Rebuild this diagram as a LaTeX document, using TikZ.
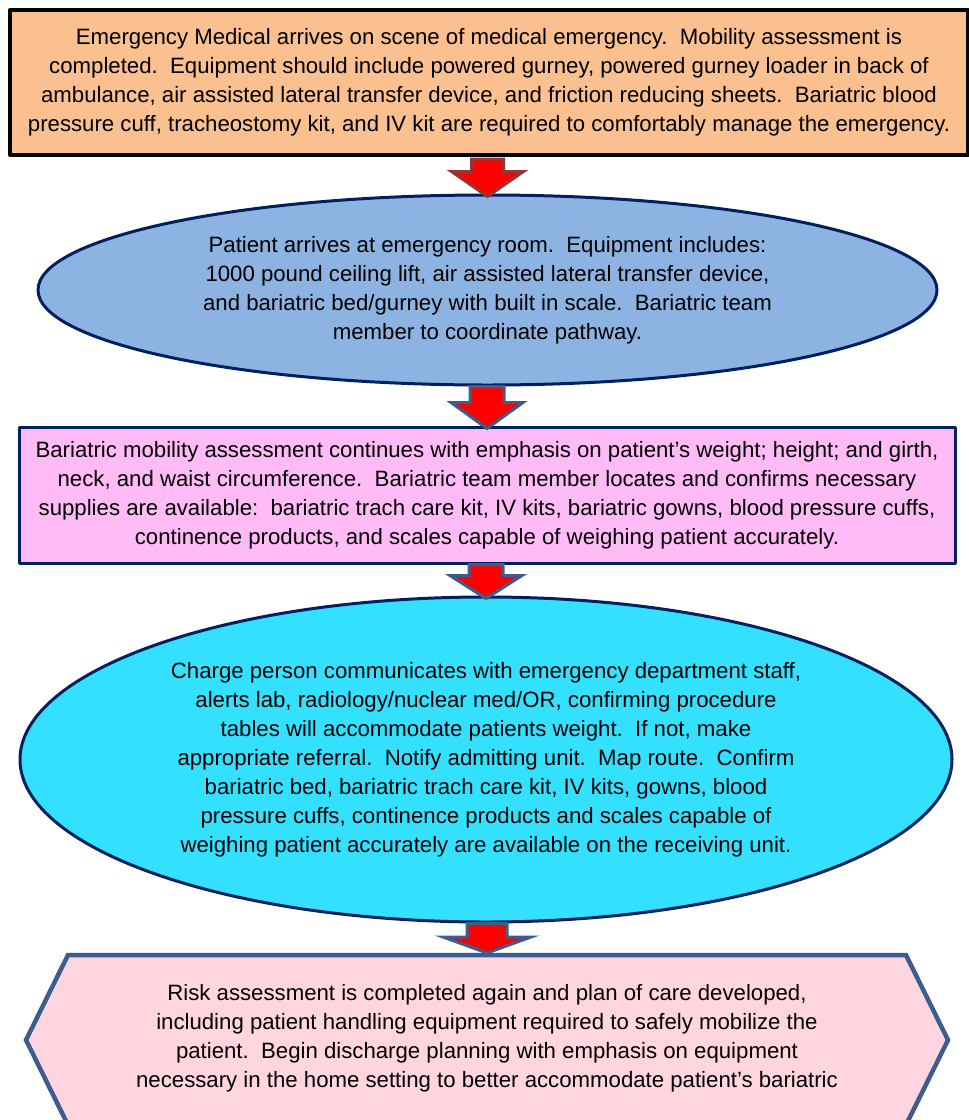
\documentclass[tikz,border=0pt]{standalone}
\usepackage{fontspec}
\setmainfont{Liberation Sans}
\usetikzlibrary{shapes.geometric,calc}

\definecolor{boxorange}{RGB}{250,192,144}
\definecolor{ovalblue}{RGB}{141,179,226}
\definecolor{boxpink}{RGB}{255,187,246}
\definecolor{ovalcyan}{RGB}{51,225,255}
\definecolor{hexpink}{RGB}{255,214,224}
\definecolor{navyline}{RGB}{0,32,96}
\definecolor{steelline}{RGB}{59,94,143}
\definecolor{darkred}{RGB}{149,55,53}

\tikzset{
  steptext/.style={align=center,inner sep=0pt,font=\fontsize{22.2}{29}\selectfont},
  navyshape/.style={draw=navyline,line width=3pt},
  blockarrow/.style={fill=red,line width=3pt,line join=miter},
}

% block arrow: from, to, outline colour, shaft half width, head half width, head length
\newcommand{\downblock}[6]{%
  \path let \p1=(#1), \p2=(#2) in [blockarrow,draw=#3]
    (\x2-#4pt,\y1) -- (\x2+#4pt,\y1) -- (\x2+#4pt,\y2+#6pt) -- (\x2+#5pt,\y2+#6pt)
    -- (\x2,\y2) -- (\x2-#5pt,\y2+#6pt) -- (\x2-#4pt,\y2+#6pt) -- cycle;}

\begin{document}
\begin{tikzpicture}[x=1pt,y=-1pt,line join=round]
\useasboundingbox (0,0) rectangle (969,1120);
\clip (0,0) rectangle (969,1120);

\node[rectangle,draw=black,line width=4pt,fill=boxorange,minimum width=958pt,minimum height=145pt,steptext] (ems) at (489,82.5)
  {Emergency Medical arrives on scene of medical emergency.\ \ Mobility assessment is\\
   completed.\ \ Equipment should include powered gurney, powered gurney loader in back of\\
   ambulance, air assisted lateral transfer device, and friction reducing sheets.\ \ Bariatric blood\\
   pressure cuff, tracheostomy kit, and IV kit are required to comfortably manage the emergency.};

\node[ellipse,navyshape,fill=ovalblue,minimum width=899pt,minimum height=190pt,steptext] (er) at (487.5,290)
  {Patient arrives at emergency room.\ \ Equipment includes:\\
   1000 pound ceiling lift, air assisted lateral transfer device,\\
   and bariatric bed/gurney with built in scale.\ \ Bariatric team\\
   member to coordinate pathway.};

\node[rectangle,navyshape,fill=boxpink,minimum width=936pt,minimum height=136pt,steptext] (assess) at (487,495)
  {Bariatric mobility assessment continues with emphasis on patient's weight; height; and girth,\\
   neck, and waist circumference.\ \ Bariatric team member locates and confirms necessary\\
   supplies are available:\ \ bariatric trach care kit, IV kits, bariatric gowns, blood pressure cuffs,\\
   continence products, and scales capable of weighing patient accurately.};

\node[ellipse,navyshape,fill=ovalcyan,minimum width=932pt,minimum height=325pt,steptext] (charge) at (486,759.5)
  {Charge person communicates with emergency department staff,\\
   alerts lab, radiology/nuclear med/OR, confirming procedure\\
   tables will accommodate patients weight.\ \ If not, make\\
   appropriate referral.\ \ Notify admitting unit.\ \ Map route.\ \ Confirm\\
   bariatric bed, bariatric trach care kit, IV kits, gowns, blood\\
   pressure cuffs, continence products and scales capable of\\
   weighing patient accurately are available on the receiving unit.};

\draw[draw=steelline,line width=4.5pt,fill=hexpink,line join=miter]
  (68,955) -- (906,955) -- (948,1040) -- (906,1125) -- (68,1125) -- (26,1040) -- cycle;
\coordinate (hextop) at (487,955);
\node[steptext] (risk) at (487,1038)
  {Risk assessment is completed again and plan of care developed,\\
   including patient handling equipment required to safely mobilize the\\
   patient.\ \ Begin discharge planning with emphasis on equipment\\
   necessary in the home setting to better accommodate patient's bariatric};

\downblock{$(ems.south)+(0,2)$}{$(er.north)+(0,3)$}{darkred}{16}{36}{25}
\downblock{er.south}{$(assess.north)+(0,3)$}{steelline}{17}{36}{26}
\downblock{assess.south}{$(charge.north)+(0,3)$}{steelline}{17}{36}{23}
\downblock{charge.south}{$(hextop)+(0,-2)$}{steelline}{20}{44}{16}
\end{tikzpicture}
\end{document}
